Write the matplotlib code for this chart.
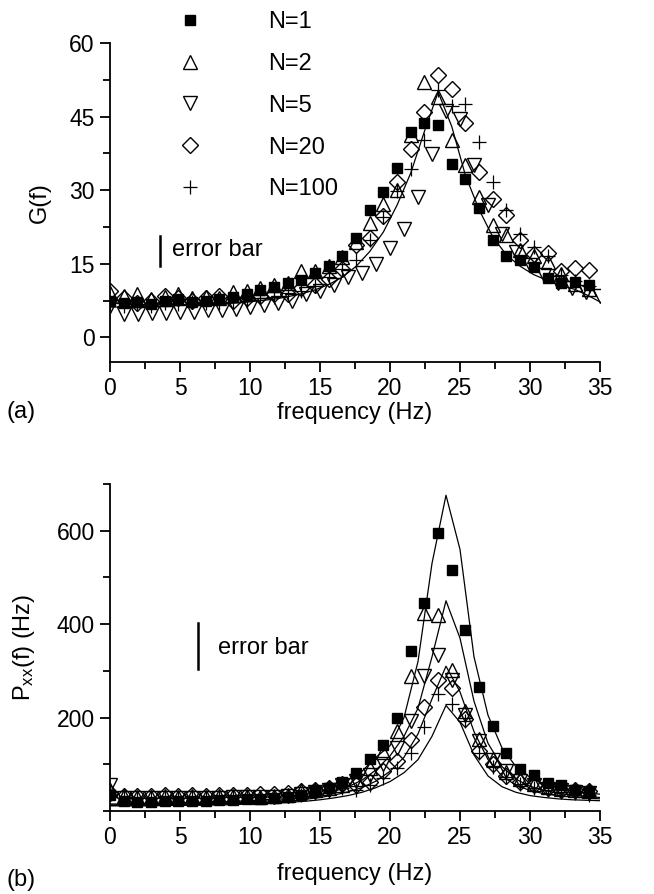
import matplotlib
matplotlib.use("Agg")
import matplotlib.pyplot as plt
from matplotlib.ticker import MultipleLocator

plt.rcParams['font.family'] = ['Liberation Sans', 'DejaVu Sans']
plt.rcParams['mathtext.fontset'] = 'custom'
plt.rcParams['mathtext.rm'] = 'Liberation Sans'
plt.rcParams['mathtext.it'] = 'Liberation Sans:italic'

# ---------------- data ----------------
FREQ = [0.00, 0.98, 1.95, 2.93, 3.91, 4.88, 5.86, 6.84, 7.81, 8.79, 9.77, 10.74,
        11.72, 12.70, 13.67, 14.65, 15.63, 16.60, 17.58, 18.55, 19.53, 20.51,
        21.48, 22.46, 23.44, 24.41, 25.39, 26.37, 27.34, 28.32, 29.30, 30.27,
        31.25, 32.23, 33.20, 34.18]
FREQ_LINE_A = FREQ + [35.16]
FREQ_INT = [0, 1, 2, 3, 4, 5, 6, 7, 8, 9, 10, 11, 12, 13, 14, 15, 16, 17, 18,
            19, 20, 21, 22, 23, 24, 25, 26, 27, 28, 29, 30, 31, 32, 33, 34, 35]

LABELS = ["N=1", "N=2", "N=5", "N=20", "N=100"]

# panel (a): G(f)
G_N1 = [7.5, 7.0, 7.2, 6.8, 7.5, 7.8, 7.3, 7.5, 7.8, 8.2, 8.8, 9.6, 10.2, 11.0,
        11.7, 13.1, 14.5, 16.5, 20.3, 25.9, 29.7, 34.6, 41.9, 43.6, 43.3, 35.3,
        32.2, 26.4, 19.8, 16.7, 15.7, 14.3, 12.2, 11.0, 11.3, 10.6]
G_N2 = [9.0, 8.5, 8.8, 7.8, 8.3, 8.8, 8.0, 8.3, 8.0, 9.2, 9.5, 10.0, 10.6, 11.0,
        13.5, 13.5, 14.6, 16.4, 19.5, 23.3, 27.2, 30.0, 41.2, 52.0, 49.0, 40.2,
        35.1, 28.6, 22.9, 20.8, 17.8, 16.5, 15.4, 13.0, 10.8, 9.8]
G_N5 = [6.5, 4.8, 4.8, 5.0, 5.0, 5.2, 5.2, 5.5, 5.5, 5.9, 6.3, 6.6, 7.0, 7.4,
        8.8, 9.5, 10.6, 12.4, 13.1, 15.0, 18.2, 22.2, 28.7, 37.3, 46.2, 44.6,
        35.1, 27.0, 21.0, 17.5, 14.7, 12.7, 11.0, 10.0, 9.2, 8.5]
G_N20 = [9.5, 8.0, 7.0, 7.5, 8.5, 8.0, 7.5, 8.0, 8.5, 7.5, 8.0, 8.5, 8.8, 8.8,
         10.0, 10.6, 12.0, 14.0, 18.8, 20.2, 24.8, 31.6, 38.4, 46.0, 53.5, 50.6,
         43.7, 33.7, 28.3, 24.9, 19.8, 17.1, 17.2, 13.5, 14.1, 13.8]
G_N100 = [7.0, 6.5, 6.8, 6.5, 7.0, 6.8, 7.2, 7.0, 7.0, 7.2, 7.5, 8.1, 8.3, 9.0,
          9.5, 10.5, 12.4, 14.0, 15.7, 19.8, 24.5, 29.9, 34.4, 40.3, 50.4, 47.1,
          47.6, 39.9, 31.7, 25.9, 21.0, 18.5, 16.7, 12.7, 11.5, 10.5]
G_FIT = [6.2, 6.2, 6.3, 6.3, 6.4, 6.5, 6.6, 6.7, 6.8, 7.0, 7.2, 7.5, 7.8, 8.3,
         8.9, 9.7, 10.8, 12.3, 14.5, 17.5, 21.5, 27.0, 33.5, 42.0, 50.0, 43.0,
         33.0, 26.0, 20.5, 16.8, 14.5, 12.8, 11.6, 10.6, 9.8, 8.5, 7.0]

# panel (b): Pxx(f)
P_N1 = [35, 22, 20, 20, 21, 21, 22, 22, 23, 24, 25, 26, 28, 31, 35, 42, 50, 62,
        82, 112, 141, 200, 343, 446, 595, 515, 388, 266, 183, 125, 89, 76, 60,
        55, 45, 40]
P_N2 = [45, 32, 31, 31, 32, 31, 32, 31, 32, 32, 33, 31, 33, 35, 42, 44, 50, 55,
        68, 91, 127, 172, 290, 424, 419, 302, 213, 154, 111, 83, 68, 58, 52,
        47, 45, 42]
P_N5 = [55, 28, 27, 27, 27, 27, 28, 28, 28, 29, 29, 30, 31, 33, 36, 40, 46, 55,
        65, 78, 100, 135, 192, 288, 335, 280, 205, 150, 110, 85, 65, 55, 48,
        44, 40, 38]
P_N20 = [38, 33, 32, 33, 34, 33, 34, 33, 34, 35, 35, 36, 37, 39, 42, 45, 50, 58,
         55, 63, 86, 108, 151, 222, 280, 263, 196, 129, 100, 75, 62, 55, 50,
         46, 45, 42]
P_N100 = [40, 28, 27, 27, 28, 28, 28, 28, 29, 29, 30, 30, 31, 33, 35, 38, 44, 50,
          45, 55, 70, 92, 125, 179, 251, 230, 192, 125, 95, 72, 58, 50, 44, 40,
          38, 35]
P_FIT1 = [15, 15, 16, 16, 17, 17, 18, 19, 20, 21, 22, 24, 27, 30, 35, 42, 52, 66,
          85, 115, 140, 200, 320, 530, 676, 560, 330, 205, 135, 95, 72, 58, 49,
          43, 39, 36]
P_FIT2 = [13, 13, 13, 14, 14, 15, 15, 16, 17, 18, 19, 21, 23, 26, 30, 35, 42, 52,
          66, 88, 118, 160, 220, 330, 450, 370, 235, 145, 95, 68, 53, 44, 38,
          34, 31, 29]
P_FIT3 = [12, 12, 12, 12, 13, 13, 14, 14, 15, 16, 17, 18, 20, 22, 25, 29, 34, 41,
          50, 64, 85, 115, 165, 240, 310, 255, 170, 110, 75, 55, 44, 37, 33, 30,
          28, 26]
P_FIT4 = [11, 11, 11, 11, 12, 12, 12, 13, 13, 14, 15, 16, 17, 19, 21, 24, 28, 33,
          40, 50, 63, 82, 110, 160, 226, 190, 120, 75, 52, 40, 33, 29, 26, 24,
          23, 22]

# ---------------- figure ----------------
W, H = 654, 894
fig = plt.figure(figsize=(W / 100, H / 100), dpi=100)

def axes_px(left, top, right, bottom):
    return fig.add_axes([left / W, 1 - bottom / H, (right - left) / W, (bottom - top) / H])

AX_L, AX_R = 110, 600
ax_a = axes_px(AX_L, 43, AX_R, 362)
ax_b = axes_px(AX_L, 484, AX_R, 811)

def fx(px):
    return (px - AX_L) / (AX_R - AX_L)

TICK_FS = 16.5
LABEL_FS = 17

styles = [
    dict(marker='s', ms=7.5, mfc='black', mec='black', mew=1.0),
    dict(marker='^', ms=9.5, mfc='none', mec='black', mew=1.0),
    dict(marker='v', ms=9.5, mfc='none', mec='black', mew=1.0),
    dict(marker='D', ms=8.0, mfc='none', mec='black', mew=1.0),
    dict(marker='+', ms=10, mfc='none', mec='black', mew=0.9),
]

def style_axes(ax, xlabelpad):
    for s in ('top', 'right'):
        ax.spines[s].set_visible(False)
    for s in ('left', 'bottom'):
        ax.spines[s].set_linewidth(1.3)
    ax.tick_params(which='major', direction='out', length=7, width=1.3,
                   labelsize=TICK_FS, pad=4)
    ax.tick_params(which='minor', direction='out', length=5, width=1.3)
    ax.set_xlim(0, 35)
    ax.xaxis.set_major_locator(MultipleLocator(5))
    ax.xaxis.set_minor_locator(MultipleLocator(2.5))
    ax.set_xlabel('frequency (Hz)', fontsize=LABEL_FS, labelpad=xlabelpad)

# ---- panel (a)
a_series = [(FREQ, G_N1), (FREQ, G_N2), (FREQ_INT, G_N5), (FREQ, G_N20), (FREQ, G_N100)]
handles = []
for (xs, ys), st, lab in zip(a_series, styles, LABELS):
    h, = ax_a.plot(xs, ys, linestyle='none', label=lab, zorder=3, **st)
    handles.append(h)
ax_a.plot(FREQ_LINE_A, G_FIT, color='black', lw=0.9, zorder=2)
style_axes(ax_a, 1.5)
ax_a.set_ylim(-5, 60)
ax_a.yaxis.set_major_locator(MultipleLocator(15))
ax_a.yaxis.set_minor_locator(MultipleLocator(7.5))
ax_a.set_ylabel('G(f)', fontsize=LABEL_FS, labelpad=13)

# error bar annotation (a)
ax_a.plot([fx(160), fx(160)], [0.301, 0.395], transform=ax_a.transAxes,
          color='black', lw=1.8, clip_on=False)
ax_a.text(fx(172), 0.350, 'error bar', transform=ax_a.transAxes,
          fontsize=LABEL_FS, va='center', ha='left')

leg = fig.legend(handles=handles, loc='upper left',
                 bbox_to_anchor=(172 / W, 1 - 11 / H), frameon=False,
                 fontsize=LABEL_FS, handlelength=1.5, handletextpad=2.55,
                 labelspacing=0.84, borderpad=0, borderaxespad=0,
                 markerscale=1.0)

# ---- panel (b)
b_series = [P_N1, P_N2, P_N5, P_N20, P_N100]
for vals, st in zip(b_series, styles):
    ax_b.plot(FREQ, vals, linestyle='none', zorder=3, **st)
for fit in (P_FIT1, P_FIT2, P_FIT3, P_FIT4):
    ax_b.plot(FREQ_INT, fit, color='black', lw=0.9, zorder=2)
style_axes(ax_b, 10)
ax_b.set_ylim(0, 700)
ax_b.set_yticks([200, 400, 600])
ax_b.yaxis.set_minor_locator(MultipleLocator(100))
ax_b.set_ylabel(r'P$_{\mathregular{xx}}$(f) (Hz)', fontsize=LABEL_FS, labelpad=14)

ax_b.plot([fx(198), fx(198)], [0.434, 0.574], transform=ax_b.transAxes,
          color='black', lw=1.8, clip_on=False)
ax_b.text(fx(218), 0.500, 'error bar', transform=ax_b.transAxes,
          fontsize=LABEL_FS, va='center', ha='left')

# panel letters
fig.text(6 / W, 1 - 412 / H, '(a)', fontsize=LABEL_FS, va='center', ha='left')
fig.text(6 / W, 1 - 880 / H, '(b)', fontsize=LABEL_FS, va='center', ha='left')

fig.savefig('out.png', dpi=100)
